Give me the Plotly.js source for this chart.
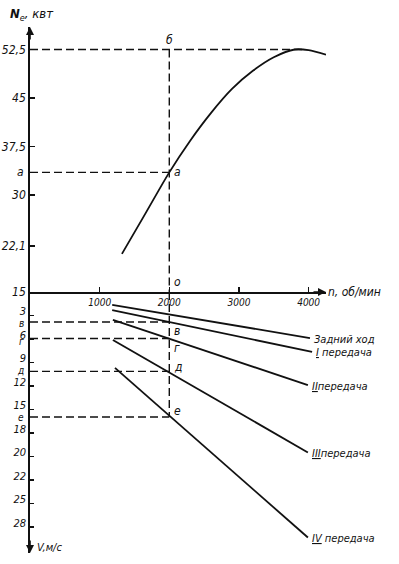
<!DOCTYPE html>
<html>
<head>
<meta charset="utf-8">
<script src="https://cdn.plot.ly/plotly-3.0.1.min.js"></script>
<style>html,body{margin:0;padding:0;background:#fff;}#chart{width:399px;height:564px;}</style>
</head>
<body>
<div id="chart"></div>
<script>
// ---- data ----
const nCurve  = [1320, 1650, 2000, 2300, 2600, 2900, 3200, 3500, 3800, 4000, 4250];
const neCurve = [20.9, 27.0, 33.5, 38.4, 42.7, 46.4, 49.2, 51.3, 52.5, 52.4, 51.7];
const neTickVals = [15, 22.1, 30, 37.5, 45, 52.5];
const neTickText = ['15', '22,1', '30', '37,5', '45', '52,5'];
const nTickVals = [1000, 2000, 3000, 4000];
const nTickText = ['1000', '2000', '3000', '4000'];
const vTickPos  = [1, 2, 3, 4, 5, 6, 7, 8, 9, 10];
const vTickText = ['3', '6', '9', '12', '15', '18', '20', '22', '25', '28'];
const gearNames = ['Задний ход', '<u>I</u> передача', '<u>II</u>передача', '<u>III</u>передача', '<u>IV</u> передача'];
const gearNStart = [1180, 1180, 1190, 1190, 1220];
const gearNEnd   = [4020, 4050, 3990, 3990, 3990];
const gearVStart = [0.55, 0.77, 1.19, 2.04, 3.23];
const gearVEnd   = [1.96, 2.55, 3.96, 6.83, 10.45];
const nRef = 2000;
const neMax = 52.5;
const neRef = 33.5;
const pointLetters = ['в', 'г', 'д', 'е'];
const pointV = [1.28, 1.98, 3.38, 5.32];

// ---- style ----
const FONT = '"Liberation Sans Narrow", "DejaVu Sans Condensed", "Liberation Sans", sans-serif';
const INK = '#111';
const f = (size) => ({family: FONT, size: size, color: INK, style: 'italic'});
const NE_TOP = 55.98, V_BOT = 11.11, SPLIT = 0.4962;

const traces = [];
traces.push({x: nCurve, y: neCurve, xaxis: 'x', yaxis: 'y', mode: 'lines',
  line: {color: INK, width: 1.8, shape: 'spline', smoothing: 0.8}, hoverinfo: 'skip'});
for (let i = 0; i < gearNames.length; i++) {
  traces.push({x: [gearNStart[i], gearNEnd[i]], y: [gearVStart[i], gearVEnd[i]],
    xaxis: 'x', yaxis: 'y2', mode: 'lines', line: {color: INK, width: 1.8}, hoverinfo: 'skip'});
}

const dash = {color: INK, width: 1.4, dash: '8px,4px'};
const shapes = [
  {type: 'line', xref: 'x', yref: 'y', x0: 0, x1: 3950, y0: neMax, y1: neMax, line: dash},
  {type: 'line', xref: 'x', yref: 'y', x0: 0, x1: nRef, y0: neRef, y1: neRef, line: dash},
  {type: 'line', xref: 'x', yref: 'y', x0: nRef, x1: nRef, y0: neMax, y1: 15, line: dash},
  {type: 'line', xref: 'x', yref: 'y2', x0: nRef, x1: nRef, y0: 0, y1: pointV[pointV.length - 1], line: dash}
];
pointV.forEach(v => shapes.push({type: 'line', xref: 'x', yref: 'y2', x0: 0, x1: nRef, y0: v, y1: v, line: dash}));

const ann = [];
// axis arrows
ann.push({xref: 'x', yref: 'y', x: 0, y: NE_TOP, ax: 0, ay: 14, text: '', showarrow: true, arrowhead: 2, arrowsize: 1, arrowwidth: 1.6, arrowcolor: INK, standoff: 0});
ann.push({xref: 'x', yref: 'y2', x: 0, y: V_BOT, ax: 0, ay: -14, text: '', showarrow: true, arrowhead: 2, arrowsize: 1, arrowwidth: 1.6, arrowcolor: INK, standoff: 0});
ann.push({xref: 'paper', yref: 'y', x: 1, y: 15, ax: -14, ay: 0, text: '', showarrow: true, arrowhead: 2, arrowsize: 1, arrowwidth: 1.6, arrowcolor: INK, standoff: 0});
// axis titles
ann.push({xref: 'paper', yref: 'paper', x: -0.074, y: 1.0, xanchor: 'left', yanchor: 'bottom', yshift: 2,
  text: '<b>N</b><sub>e</sub>, квт', showarrow: false, font: f(13)});
ann.push({xref: 'paper', yref: 'y', x: 1, y: 15, xanchor: 'left', yanchor: 'middle',
  text: 'n, об/мин', showarrow: false, font: f(12)});
ann.push({xref: 'x', yref: 'y2', x: 0, y: V_BOT, xanchor: 'left', yanchor: 'middle', xshift: 5, yshift: 5,
  text: 'V,м/с', showarrow: false, font: f(11)});
// gear labels
for (let i = 0; i < gearNames.length; i++) {
  ann.push({xref: 'x', yref: 'y2', x: gearNEnd[i], y: gearVEnd[i], xanchor: 'left', yanchor: 'middle', xshift: 2, yshift: -1,
    text: gearNames[i], showarrow: false, font: f(11)});
}
// point letters
ann.push({xref: 'x', yref: 'y', x: nRef, y: neMax, xanchor: 'center', yanchor: 'bottom', yshift: 1, text: 'б', showarrow: false, font: f(12)});
ann.push({xref: 'x', yref: 'y', x: nRef, y: neRef, xanchor: 'left', yanchor: 'middle', xshift: 3, text: 'а', showarrow: false, font: f(12)});
ann.push({xref: 'x', yref: 'y', x: nRef, y: 15, xanchor: 'left', yanchor: 'bottom', xshift: 3, yshift: 1, text: 'о', showarrow: false, font: f(12)});
ann.push({xref: 'paper', yref: 'y', x: 0, y: neRef, xanchor: 'right', yanchor: 'middle', xshift: -4, text: 'а', showarrow: false, font: f(12)});
const ptShift = [-9, -9, 4, 6];
const axShift = [-1, -3, 1, -1];
pointLetters.forEach((L, i) => {
  ann.push({xref: 'x', yref: 'y2', x: nRef, y: pointV[i], xanchor: 'left', yanchor: 'middle', xshift: 3, yshift: ptShift[i], text: L, showarrow: false, font: f(12)});
  ann.push({xref: 'paper', yref: 'y2', x: 0, y: pointV[i], xanchor: 'right', yanchor: 'middle', xshift: -4, yshift: axShift[i], text: L, showarrow: false, font: f(10)});
});

const layout = {
  width: 399, height: 564,
  margin: {l: 30, r: 73, t: 27, b: 11, pad: 0},
  paper_bgcolor: '#fff', plot_bgcolor: '#fff',
  showlegend: false,
  xaxis: {range: [0, 4250], anchor: 'y', side: 'bottom', showline: true, linecolor: INK, linewidth: 1.8,
    ticks: 'inside', ticklen: 5, tickwidth: 1.2, tickcolor: INK, tickvals: nTickVals, ticktext: nTickText,
    tickfont: f(10), showgrid: false, zeroline: false, fixedrange: true},
  yaxis: {domain: [SPLIT, 1], range: [15, NE_TOP], anchor: 'x', showline: true, linecolor: INK, linewidth: 1.8,
    ticks: 'inside', ticklen: 5, tickwidth: 1.2, tickcolor: INK, tickvals: neTickVals, ticktext: neTickText,
    tickfont: f(12), showgrid: false, zeroline: false, fixedrange: true},
  yaxis2: {domain: [0, SPLIT], range: [V_BOT, 0], anchor: 'x', showline: true, linecolor: INK, linewidth: 1.8,
    ticks: 'inside', ticklen: 4, tickwidth: 1.2, tickcolor: INK, tickvals: vTickPos, ticktext: vTickText,
    tickfont: f(11), ticklabelshift: 4, showgrid: false, zeroline: false, fixedrange: true},
  shapes: shapes,
  annotations: ann
};

Plotly.newPlot('chart', traces, layout, {displayModeBar: false, staticPlot: true});
</script>
</body>
</html>
